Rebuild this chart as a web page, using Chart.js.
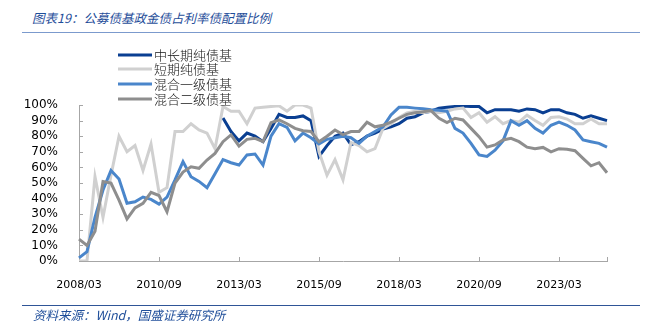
<!DOCTYPE html>
<html>
<head>
<meta charset="utf-8">
<script src="https://cdn.jsdelivr.net/npm/chart.js@4"></script>
<style>
  body { margin: 0; background: #fff; }
  #wrap { position: relative; width: 645px; height: 335px; overflow: hidden; }
  #chart { position: absolute; left: 0; top: 0; }
  .cap { position: absolute; left: 32px; font-family: "Noto Sans CJK SC", sans-serif; font-style: italic; font-size: 12.5px; color: #1f4e9a; white-space: nowrap; line-height: 1; }
  .rule { position: absolute; left: 22px; width: 618px; }
</style>
</head>
<body>
<div id="wrap">
  <div class="cap" style="top: 12px;">图表19：公募债基政金债占利率债配置比例</div>
  <div class="rule" style="top: 32px; border-top: 1.5px solid #7b9acd;"></div>
  <canvas id="chart" width="645" height="335"></canvas>
  <div class="rule" style="top: 305px; border-top: 1.5px solid #2f5597;"></div>
  <div class="cap" style="top: 309px; left: 33px;">资料来源：Wind，国盛证券研究所</div>
</div>
<script>
const quarters = [
  '2008/03','2008/06','2008/09','2008/12','2009/03','2009/06','2009/09','2009/12',
  '2010/03','2010/06','2010/09','2010/12','2011/03','2011/06','2011/09','2011/12',
  '2012/03','2012/06','2012/09','2012/12','2013/03','2013/06','2013/09','2013/12',
  '2014/03','2014/06','2014/09','2014/12','2015/03','2015/06','2015/09','2015/12',
  '2016/03','2016/06','2016/09','2016/12','2017/03','2017/06','2017/09','2017/12',
  '2018/03','2018/06','2018/09','2018/12','2019/03','2019/06','2019/09','2019/12',
  '2020/03','2020/06','2020/09','2020/12','2021/03','2021/06','2021/09','2021/12',
  '2022/03','2022/06','2022/09','2022/12','2023/03','2023/06','2023/09','2023/12',
  '2024/03','2024/06','2024/09'
];
const tickLabels = ['2008/03','2010/09','2013/03','2015/09','2018/03','2020/09','2023/03'];

// 中长期纯债基
const midLong = [
  null, null, null, null, null, null, null, null, null, null,
  null, null, null, null, null, null, null, null, 91.6, 83,
  77, 82, 80, 76.5, 85, 94, 92, 92, 93, 90,
  67, 74, 80, 82, 74.5, 76.5, 80, 82, 84.5, 86,
  88, 91.5, 92.5, 95, 96, 98, 98.5, 99, 99.4, 99,
  99, 95, 97, 97, 97, 96, 97.5, 97, 95, 97,
  97, 95, 94, 91.5, 93, 91.5, 90
];
// 短期纯债基
const shortTerm = [
  0, 0, 54, 28, 55, 80, 70, 74, 58, 75,
  44, 47, 83, 83, 88, 84, 82, 72, 99, 96,
  96, 88, 98, 98.5, 99, 99.5, 96, 100, 100, 98,
  70, 55, 65, 52, 76, 74, 70, 72, 85, 88,
  92, 95, 96, 95, 96, 95, 96, 97.5, 98, 92,
  95, 89, 92.5, 88, 90, 89, 93.5, 90, 87, 92,
  92.5, 91, 88, 88, 91, 88, 88
];
// 混合一级债基
const mixedFirst = [
  2, 6, 28, 45.5, 58, 52.6, 37, 38, 41, 39.5,
  36.5, 41, 52, 63.7, 54, 51, 47, 56, 65, 63,
  61.5, 68, 68.6, 61.5, 80, 88, 85.7, 77, 82, 79,
  75, 78, 79, 80, 79, 75.4, 80, 83, 86, 93.6,
  98.5, 98.5, 98, 97.6, 97, 96.6, 96, 85, 82, 75.4,
  68, 67, 71, 77, 90, 87, 90, 85, 82, 87,
  89, 87, 84, 77.6, 76.5, 75.4, 73
];
// 混合二级债基
const mixedSecond = [
  14, 10, 19, 51, 50, 39, 27, 34, 37, 44,
  42, 31.6, 50, 57, 60.4, 59.4, 64.7, 69, 76.5, 80.8,
  73.7, 78, 78.6, 76.5, 88.7, 90.4, 88, 85, 83.5, 83,
  76.5, 80, 84, 81, 83, 83, 89, 86, 87, 89,
  91.5, 94, 95, 95.7, 96.4, 91.5, 88.7, 91.5, 90.4, 85,
  79.7, 73, 74.4, 77.6, 78.6, 76.5, 73, 72, 72.8, 70,
  72, 71.6, 70.7, 65.8, 61, 63, 56.6
];

const seriesNames = ['中长期纯债基', '短期纯债基', '混合一级债基', '混合二级债基'];
const seriesColors = ['#0a3f92', '#d0d0d0', '#4a86cb', '#8e8e8e'];

const axisColor = '#a6a6a6';

// legend drawn inside the plot, top-left, plus inward tick marks
const overlayPlugin = {
  id: 'overlay',
  beforeDatasetsDraw(chart) {
    const ctx = chart.ctx;
    const x = chart.scales.x, y = chart.scales.y;
    ctx.save();
    ctx.strokeStyle = axisColor;
    ctx.lineWidth = 1;
    ctx.beginPath();
    quarters.forEach((q, i) => {
      if (tickLabels.includes(q) || i === quarters.length - 1) {
        const px = Math.round(x.getPixelForValue(i)) + 0.5;
        ctx.moveTo(px, y.bottom);
        ctx.lineTo(px, y.bottom - 4);
      }
    });
    for (let v = 0; v <= 100; v += 10) {
      const py = Math.round(y.getPixelForValue(v)) + 0.5;
      ctx.moveTo(x.left, py);
      ctx.lineTo(x.left + 4, py);
    }
    ctx.stroke();
    ctx.restore();
  },
  afterDatasetsDraw(chart) {
    const ctx = chart.ctx;
    ctx.save();
    ctx.font = '300 13px "Noto Sans CJK SC", sans-serif';
    ctx.textBaseline = 'middle';
    ctx.fillStyle = '#111';
    const rows = [55, 69, 84, 99];
    seriesNames.forEach((name, i) => {
      ctx.strokeStyle = seriesColors[i];
      ctx.lineWidth = 3;
      ctx.beginPath();
      ctx.moveTo(118, rows[i]);
      ctx.lineTo(152, rows[i]);
      ctx.stroke();
      ctx.fillText(name, 154, rows[i] + 0.5);
    });
    ctx.restore();
  }
};

const seriesData = [midLong, shortTerm, mixedFirst, mixedSecond];

new Chart(document.getElementById('chart').getContext('2d'), {
  type: 'line',
  data: {
    labels: quarters,
    datasets: seriesData.map((d, i) => ({
      label: seriesNames[i],
      data: d,
      borderColor: seriesColors[i],
      borderWidth: 3,
      pointRadius: 0,
      tension: 0,
      spanGaps: false,
      fill: false,
      order: 3 - i
    }))
  },
  options: {
    responsive: false,
    animation: false,
    devicePixelRatio: 1,
    layout: { padding: { left: 0, right: 38, top: 105, bottom: 0 } },
    scales: {
      x: {
        type: 'category',
        offset: false,
        grid: { display: false },
        border: { display: true, color: axisColor, width: 1 },
        ticks: {
          autoSkip: false,
          maxRotation: 0,
          minRotation: 0,
          padding: 10,
          color: '#000',
          font: { family: '"DejaVu Sans", sans-serif', size: 11 },
          callback(value) {
            const lab = quarters[value];
            return tickLabels.includes(lab) ? lab : '';
          }
        },
        afterFit(scale) { scale.height = 74; }
      },
      y: {
        min: 0,
        max: 100,
        grid: { display: false },
        border: { display: true, color: axisColor, width: 1 },
        ticks: {
          stepSize: 10,
          autoSkip: false,
          padding: 13,
          color: '#000',
          font: { family: '"DejaVu Sans", sans-serif', size: 12 },
          callback(value) { return value + '%'; }
        },
        afterFit(scale) { scale.width = 79; }
      }
    },
    plugins: {
      legend: { display: false },
      tooltip: { enabled: false }
    }
  },
  plugins: [overlayPlugin]
});
</script>
</body>
</html>
